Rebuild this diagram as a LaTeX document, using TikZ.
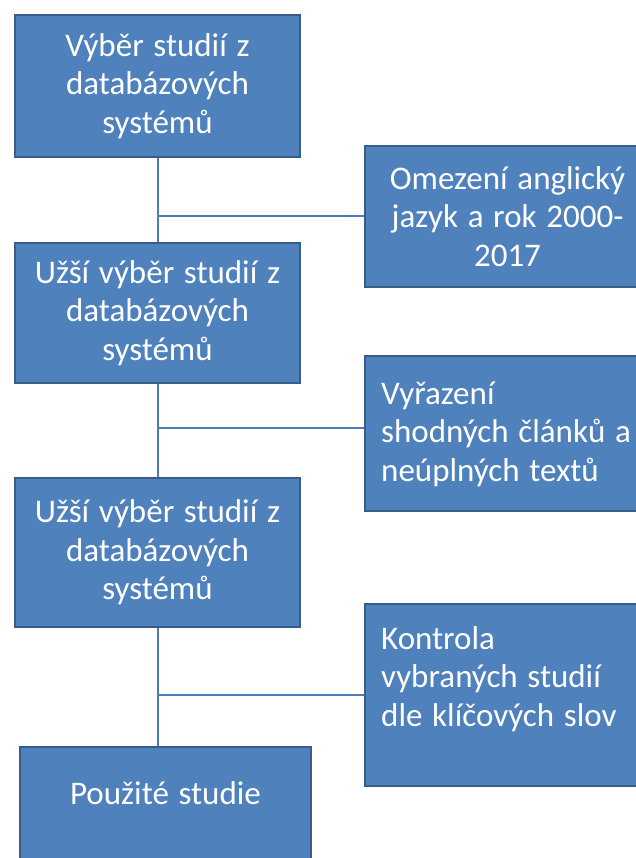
\documentclass[tikz,border=0pt]{standalone}
\usepackage{fontspec}
\setmainfont[WordSpace=1.3]{Carlito}
\definecolor{boxfill}{HTML}{4F81BD}
\definecolor{boxline}{HTML}{385D8A}
\definecolor{connc}{HTML}{4A7EBB}
\begin{document}
\begin{tikzpicture}[x=1pt,y=-1pt,
  box/.style={draw=boxline, line width=2.8pt, fill=boxfill, text=white,
    font=\fontsize{33}{38.5}\selectfont, inner sep=0pt, align=center},
  lbl/.style={text=white, font=\fontsize{33}{38.5}\selectfont, inner sep=0pt, align=left},
  conn/.style={draw=connc, line width=2pt}]
\useasboundingbox (0,0) rectangle (636,858);
\clip (0,0) rectangle (636,858);
% left column
\node[box, minimum width=285pt, minimum height=142pt] (b1) at (157.5,86) {Výběr studií z\\databázových\\systémů};
\node[box, minimum width=285pt, minimum height=140pt] (b2) at (157.5,313) {Užší výběr studií z\\databázových\\systémů};
\node[box, minimum width=285pt, minimum height=149pt] (b3) at (157.5,552.5) {Užší výběr studií z\\databázových\\systémů};
\node[box, minimum width=291pt, minimum height=126pt] (b4) at (165.5,810) {};
\node[lbl, align=center] (t4) at (165.5,793) {Použité studie};
% right column
\node[box, minimum width=285pt, minimum height=141pt] (r1) at (507.5,216.5) {Omezení anglický\\jazyk a rok 2000-\\2017};
\node[box, minimum width=285pt, minimum height=155pt] (r2) at (507.5,433.5) {};
\node[lbl, anchor=west] (t2) at (381,434) {Vyřazení\\shodných článků a\\neúplných textů};
\node[box, minimum width=285pt, minimum height=182pt] (r3) at (507.5,695) {};
\node[lbl, anchor=west] (t3) at (381,679) {Kontrola\\vybraných studií\\dle klíčových slov};
% connectors
\draw[conn] (b1.south) -- (b2.north);
\draw[conn] (b1.south |- r1.west) -- (r1.west);
\draw[conn] (b2.south) -- (b3.north);
\draw[conn] ([yshift=5.5pt]r2.west -| b2.south) -- ([yshift=5.5pt]r2.west);
\draw[conn] (b3.south) -- (b3.south |- b4.north);
\draw[conn] (b3.south |- r3.west) -- (r3.west);
\end{tikzpicture}
\end{document}
